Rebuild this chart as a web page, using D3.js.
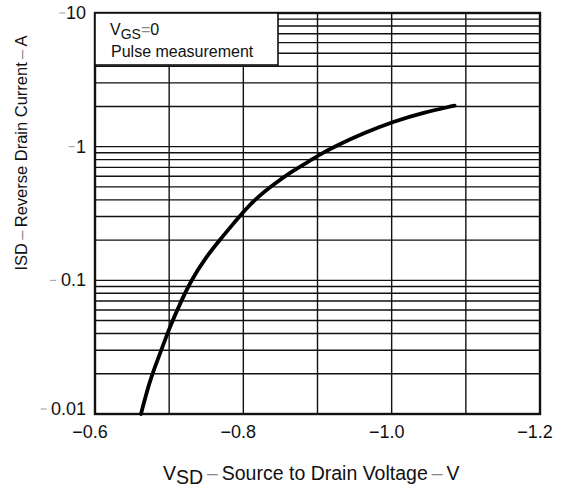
<!DOCTYPE html>
<html>
<head>
<meta charset="utf-8">
<script src="https://cdn.jsdelivr.net/npm/d3@7"></script>
<style>
  body { margin: 0; background: #fff; }
  text { font-family: "Liberation Sans", Arial, sans-serif; fill: #111; }
</style>
</head>
<body>
<div id="canvas"></div>
<script>
// DATA
const vsd = [-0.662, -0.674, -0.688, -0.701, -0.715, -0.730, -0.748, -0.769, -0.789, -0.802,
             -0.820, -0.843, -0.865, -0.888, -0.906, -0.926, -0.962, -1.002, -1.043, -1.085];
const isd = [0.010, 0.018, 0.0286, 0.045, 0.0677, 0.1007, 0.145, 0.203, 0.275, 0.336,
             0.423, 0.532, 0.650, 0.772, 0.892, 1.02, 1.26, 1.54, 1.80, 2.03];
const xTicks = [-0.6, -0.8, -1.0, -1.2];
const xGrid = [-0.6, -0.7, -0.8, -0.9, -1.0, -1.1, -1.2];
const yTicks = [0.01, 0.1, 1, 10];
const yTickLabels = ["0.01", "0.1", "1", "10"];
const decades = [0.01, 0.1, 1];
const mult = [1, 2, 3, 4, 5, 6, 7, 8, 9];

// DIMENSIONS
const width = 565;
const height = 488;
const margin = { top: 13, right: 25, bottom: 74, left: 95 };
const plot_width = width - margin.left - margin.right;
const plot_height = height - margin.top - margin.bottom;

const svg = d3.select("#canvas").append("svg")
    .attr("width", width)
    .attr("height", height);

const plot = svg.append("g")
    .attr("transform", `translate(${margin.left}, ${margin.top})`);

// SCALES
const xScale = d3.scaleLinear().domain([-0.6, -1.2]).range([0, plot_width]);
const yScale = d3.scaleLog().domain([0.01, 10]).range([plot_height, 0]);

// GRID
const yGrid = [];
decades.forEach(d => mult.forEach(m => yGrid.push(d * m)));
yGrid.push(10);

plot.selectAll(".hgrid").data(yGrid).enter().append("line")
    .attr("x1", 0).attr("x2", plot_width)
    .attr("y1", d => yScale(d)).attr("y2", d => yScale(d))
    .attr("stroke", "#111").attr("stroke-width", 1.4);

plot.selectAll(".vgrid").data(xGrid).enter().append("line")
    .attr("x1", d => xScale(d)).attr("x2", d => xScale(d))
    .attr("y1", 0).attr("y2", plot_height)
    .attr("stroke", "#111").attr("stroke-width", 1.4);

// FRAME
plot.append("rect")
    .attr("width", plot_width).attr("height", plot_height)
    .attr("fill", "none").attr("stroke", "#111").attr("stroke-width", 2.4);

// LEGEND BOX
plot.append("rect")
    .attr("x", 0).attr("y", 0).attr("width", 183).attr("height", 52)
    .attr("fill", "#fff").attr("stroke", "#111").attr("stroke-width", 1.6);

const l1 = plot.append("text").attr("x", 15).attr("y", 22).style("font-size", "16px");
l1.append("tspan").text("V");
l1.append("tspan").attr("dy", 4).style("font-size", "14px").text("GS");
l1.append("tspan").attr("dy", -4).attr("fill", "#888").text("=");
l1.append("tspan").text("0");
plot.append("text").attr("x", 16).attr("y", 44).style("font-size", "16px").text("Pulse measurement");

// CURVE
const pts = vsd.map((v, i) => [v, isd[i]]);
const makeLine = d3.line()
    .x(d => xScale(d[0]))
    .y(d => yScale(d[1]))
    .curve(d3.curveBasis);

plot.append("path")
    .attr("d", makeLine(pts))
    .attr("fill", "none")
    .attr("stroke", "#000")
    .attr("stroke-width", 3.8)
    .attr("stroke-linecap", "round");

// Y TICK LABELS
const yl = plot.selectAll(".ylab").data(yTicks).enter().append("g")
    .attr("transform", d => `translate(0, ${yScale(d)})`);
yl.append("text")
    .attr("x", -9).attr("y", (d, i) => i == 0 ? 1 : 6)
    .attr("text-anchor", "end")
    .style("font-size", "18px")
    .text((d, i) => yTickLabels[i]);
yl.append("line")
    .attr("x1", (d, i) => -17 - yTickLabels[i].length * 9.3)
    .attr("x2", (d, i) => -11 - yTickLabels[i].length * 9.3)
    .attr("y1", (d, i) => i == 0 ? -5 : 0).attr("y2", (d, i) => i == 0 ? -5 : 0)
    .attr("stroke", "#999").attr("stroke-width", 1);

// X TICK LABELS
plot.selectAll(".xlab").data(xTicks).enter().append("text")
    .attr("x", d => xScale(d) - 5)
    .attr("y", plot_height + 24)
    .attr("text-anchor", "middle")
    .style("font-size", "18px")
    .text(d => "\u2212" + Math.abs(d).toFixed(1));

// AXIS TITLES
const xt = svg.append("text")
    .attr("x", 163).attr("y", 480)
    .style("font-size", "19.5px");
xt.append("tspan").text("V");
xt.append("tspan").attr("dy", 4).text("SD");
xt.append("tspan").attr("dy", -4).attr("fill", "#888").text("\u2009\u2013\u2009");
xt.append("tspan").text("Source to Drain Voltage");
xt.append("tspan").attr("fill", "#888").text("\u2009\u2013\u2009");
xt.append("tspan").text("V");

const yt = svg.append("text")
    .attr("transform", "translate(27, 153) rotate(-90)")
    .attr("text-anchor", "middle")
    .style("font-size", "16.5px");
yt.append("tspan").text("ISD");
yt.append("tspan").attr("fill", "#888").text("\u2009\u2013\u2009");
yt.append("tspan").text("Reverse Drain Current");
yt.append("tspan").attr("fill", "#888").text("\u2009\u2013\u2009");
yt.append("tspan").text("A");
</script>
</body>
</html>
